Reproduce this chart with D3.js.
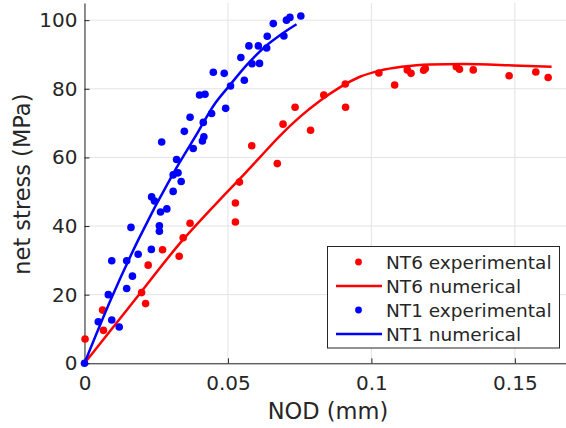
<!DOCTYPE html>
<html>
<head>
<meta charset="utf-8">
<script src="https://cdn.jsdelivr.net/npm/d3@7"></script>
<style>
  html, body { margin: 0; padding: 0; background: #fff; }
  svg { display: block; font-family: "DejaVu Sans", sans-serif; }
</style>
</head>
<body>
<svg id="chart" width="566" height="428"></svg>
<script>
// Net stress versus notch opening displacement (NOD), specimens NT6 and NT1

// NT6 experimental: NOD (mm), net stress (MPa)
const nt6ExpNod = [0.0002, 0.0063, 0.0066, 0.0199, 0.0213, 0.0222, 0.0272, 0.0330, 0.0344, 0.0368,
  0.0526, 0.0526, 0.0540, 0.0583, 0.0672, 0.0692, 0.0734, 0.0788, 0.0834, 0.0909, 0.0910,
  0.1026, 0.1081, 0.1125, 0.1138, 0.1182, 0.1188, 0.1296, 0.1307, 0.1355, 0.1480, 0.1573, 0.1616];
const nt6ExpStress = [7.1, 15.5, 9.6, 20.6, 17.4, 28.6, 33.1, 31.2, 36.6, 40.8,
  41.2, 46.7, 52.8, 63.4, 58.2, 69.7, 74.6, 67.9, 78.2, 81.4, 74.6,
  84.6, 81.1, 85.5, 84.5, 85.4, 85.9, 86.4, 85.7, 85.5, 83.8, 84.9, 83.3];

// NT6 numerical curve
const nt6NumNod = [0, 0.0171, 0.0342, 0.0473, 0.0542, 0.0611, 0.0681, 0.0751, 0.0821, 0.0890,
  0.0960, 0.1030, 0.1105, 0.1204, 0.1320, 0.1494, 0.1628];
const nt6NumStress = [0, 18.0, 35.9, 47.8, 53.8, 60.0, 66.3, 71.8, 76.5, 80.4,
  83.5, 85.3, 86.4, 87.1, 87.2, 86.8, 86.4];

// NT1 experimental
const nt1ExpNod = [0, 0.0048, 0.0083, 0.0095, 0.0121, 0.0095, 0.0147, 0.0167, 0.0147, 0.0162,
  0.0187, 0.0233, 0.0261, 0.0261, 0.0265, 0.0287, 0.0234, 0.0244, 0.0309, 0.0337,
  0.0309, 0.0326, 0.0321, 0.0269, 0.0379, 0.0411, 0.0416, 0.0348, 0.0368, 0.0414,
  0.0443, 0.0492, 0.0401, 0.0420, 0.0509, 0.0557, 0.0449, 0.0487, 0.0545, 0.0573,
  0.0584, 0.0610, 0.0606, 0.0635, 0.0637, 0.0658, 0.0695, 0.0704, 0.0716, 0.0754];
const nt1ExpStress = [0, 12.1, 20.0, 12.6, 10.6, 29.9, 21.8, 25.4, 29.9, 39.6,
  31.8, 33.2, 38.5, 40.1, 44.1, 45.0, 48.5, 47.3, 50.1, 53.0,
  54.9, 55.5, 59.4, 64.5, 62.6, 64.8, 66.0, 67.6, 71.7, 70.2,
  72.8, 74.3, 78.2, 78.4, 80.8, 82.5, 84.8, 84.5, 89.1, 92.5,
  87.3, 87.4, 92.5, 91.9, 95.3, 99.0, 95.4, 100.0, 100.8, 101.2];

// NT1 numerical curve
const nt1NumNod = [0, 0.0094, 0.0187, 0.0309, 0.0397, 0.0449, 0.0507, 0.0565, 0.0635, 0.0681, 0.0739];
const nt1NumStress = [0, 19.0, 35.9, 55.3, 67.6, 75.0, 81.1, 86.9, 92.7, 95.6, 98.8];

const xTicks = [0, 0.05, 0.1, 0.15];
const xTickLabels = ["0", "0.05", "0.1", "0.15"];
const yTicks = [0, 20, 40, 60, 80, 100];
const yTickLabels = ["0", "20", "40", "60", "80", "100"];

const legendLabels = ["NT6 experimental", "NT6 numerical", "NT1 experimental", "NT1 numerical"];

const RED = "#ff0000", BLUE = "#0000ff", INK = "#262626";

const svg = d3.select("#chart");
const plot = { left: 84.5, right: 566.5, top: 3, bottom: 363.3 };

const x = d3.scaleLinear().domain([0, 0.168]).range([plot.left, plot.right]);
const y = d3.scaleLinear().domain([0, 105]).range([plot.bottom, plot.top]);

// grid
const grid = svg.append("g").attr("stroke", "#e3e3e3").attr("stroke-width", 1);
grid.selectAll("line.v").data(xTicks).join("line")
  .attr("x1", d => x(d)).attr("x2", d => x(d))
  .attr("y1", plot.top).attr("y2", plot.bottom);
grid.selectAll("line.h").data(yTicks).join("line")
  .attr("x1", plot.left).attr("x2", plot.right)
  .attr("y1", d => y(d)).attr("y2", d => y(d));

// axes
const xAxis = d3.axisBottom(x).tickValues(xTicks)
  .tickFormat((d, i) => xTickLabels[i]).tickSizeInner(-5).tickSizeOuter(0).tickPadding(13);
const yAxis = d3.axisLeft(y).tickValues(yTicks)
  .tickFormat((d, i) => yTickLabels[i]).tickSizeInner(-5).tickSizeOuter(0).tickPadding(7);

function styleAxis(g) {
  g.select(".domain").attr("stroke", INK).attr("stroke-width", 1);
  g.selectAll(".tick line").attr("stroke", INK);
  g.selectAll(".tick text").attr("fill", INK).attr("font-size", 20)
    .attr("font-family", "DejaVu Sans, sans-serif");
}
svg.append("g").attr("transform", `translate(0,${plot.bottom})`).call(xAxis).call(styleAxis);
svg.append("g").attr("transform", `translate(${plot.left},0)`).call(yAxis).call(styleAxis);

// axis titles
svg.append("text")
  .attr("x", 328).attr("y", 418.5)
  .attr("text-anchor", "middle").attr("font-size", 22.5).attr("fill", INK)
  .text("NOD (mm)");
svg.append("text")
  .attr("transform", `translate(30,${(plot.top + plot.bottom) / 2 + 1}) rotate(-90)`)
  .attr("text-anchor", "middle").attr("font-size", 22.5).attr("fill", INK)
  .text("net stress (MPa)");

const line = d3.line().x(d => x(d[0])).y(d => y(d[1])).curve(d3.curveMonotoneX);
const zip = (a, b) => a.map((v, i) => [v, b[i]]);

const series = [
  { nod: nt6ExpNod, stress: nt6ExpStress, color: RED, type: "dot" },
  { nod: nt6NumNod, stress: nt6NumStress, color: RED, type: "line" },
  { nod: nt1ExpNod, stress: nt1ExpStress, color: BLUE, type: "dot" },
  { nod: nt1NumNod, stress: nt1NumStress, color: BLUE, type: "line" }
];

series.forEach(s => {
  const pts = zip(s.nod, s.stress);
  if (s.type === "dot") {
    svg.append("g").selectAll("circle").data(pts).join("circle")
      .attr("cx", d => x(d[0])).attr("cy", d => y(d[1])).attr("r", 3.8)
      .attr("fill", s.color);
  } else {
    svg.append("path").datum(pts).attr("d", line)
      .attr("fill", "none").attr("stroke", s.color).attr("stroke-width", 2.5)
      .attr("stroke-linejoin", "round");
  }
});

// legend
const lg = svg.append("g");
lg.append("rect").attr("x", 327.5).attr("y", 246.5).attr("width", 232).attr("height", 101.5)
  .attr("fill", "#fff").attr("stroke", INK).attr("stroke-width", 1);
const rowY = [262, 286, 310, 334];
series.forEach((s, i) => {
  const cy = rowY[i];
  if (s.type === "dot") {
    lg.append("circle").attr("cx", 358.5).attr("cy", cy).attr("r", 3.4).attr("fill", s.color);
  } else {
    lg.append("line").attr("x1", 336).attr("x2", 382).attr("y1", cy).attr("y2", cy)
      .attr("stroke", s.color).attr("stroke-width", 2.5);
  }
  lg.append("text").attr("x", 386).attr("y", cy).attr("dy", "0.36em")
    .attr("font-size", 18.5).attr("fill", INK).text(legendLabels[i]);
});
</script>
</body>
</html>
